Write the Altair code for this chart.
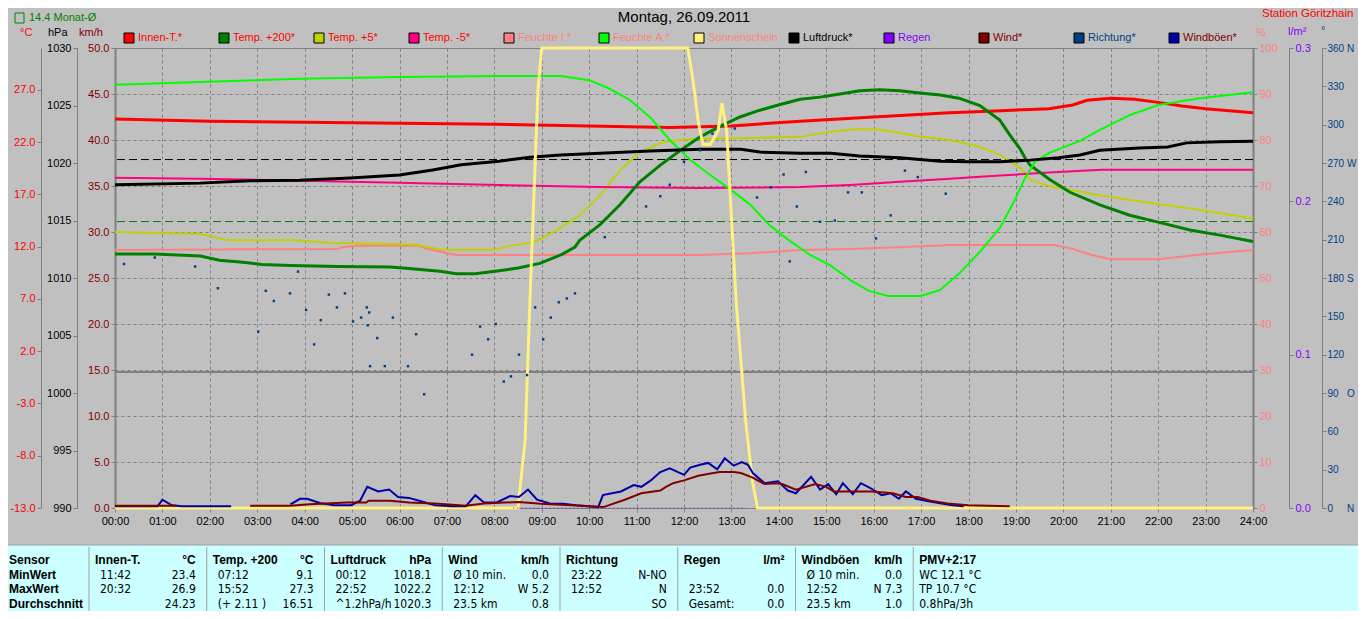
import altair as alt
import pandas as pd

FONT = "Liberation Sans"
NARROW = "Liberation Sans Narrow, DejaVu Sans Condensed, Liberation Sans"

# ---------------- data (hour of day, value) ----------------
INNEN = [(0, 24.2), (2, 24.0), (4, 23.9), (6, 23.8), (8, 23.7), (10, 23.55), (11.7, 23.4), (13, 23.55),
         (14.45, 24.0), (16, 24.4), (17.6, 24.8), (18.7, 25.0), (19.7, 25.2), (20.2, 25.55), (20.5, 26.0),
         (21, 26.2), (21.5, 26.1), (22, 25.8), (22.5, 25.45), (23, 25.2), (23.5, 25.0), (24, 24.8)]
T200 = [(0, 11.3), (0.84, 11.3), (1.8, 11.1), (2.2, 10.7), (2.7, 10.5), (3.1, 10.3), (3.7, 10.2), (4.7, 10.1),
        (5.8, 10.05), (6.2, 9.9), (6.85, 9.65), (7.2, 9.4), (7.6, 9.4), (8.1, 9.7), (8.5, 9.95), (8.96, 10.4),
        (9.4, 11.2), (9.7, 11.95), (9.8, 12.6), (10.23, 14.1), (10.65, 16.0), (11.07, 18.2), (11.5, 19.8),
        (11.92, 21.2), (12.34, 22.5), (12.76, 23.5), (13.18, 24.4), (13.6, 25.05), (14.03, 25.6), (14.45, 26.1),
        (14.87, 26.3), (15.29, 26.6), (15.71, 26.9), (16.13, 27.0), (16.55, 26.9), (16.97, 26.7), (17.4, 26.5),
        (17.8, 26.2), (18.24, 25.5), (18.66, 24.1), (18.87, 22.7), (19.08, 21.4), (19.19, 20.5), (19.3, 19.8),
        (19.72, 18.4), (20.14, 17.2), (20.77, 16.0), (21.4, 15.0), (22.04, 14.3), (22.67, 13.6), (23.3, 13.1),
        (24, 12.5)]
T5 = [(0, 13.4), (1.8, 13.2), (2.4, 12.6), (3.8, 12.6), (4.6, 12.35), (6.3, 12.2), (6.9, 11.7), (8.0, 11.7),
      (8.3, 12.05), (8.8, 12.4), (9.0, 12.8), (9.4, 13.8), (9.8, 15.0), (10.23, 16.9), (10.65, 19.3),
      (11.07, 21.05), (11.5, 21.9), (11.9, 22.2), (12.3, 22.3), (13.4, 22.4), (14.45, 22.5), (15.1, 23.0),
      (15.7, 23.25), (16.1, 23.2), (16.55, 22.9), (17.0, 22.5), (17.6, 22.2), (18.2, 21.6), (18.66, 20.8),
      (19.1, 19.5), (19.3, 18.4), (19.7, 17.8), (20.8, 16.9), (21.8, 16.2), (22.9, 15.5), (24, 14.7)]
TM5 = [(0, 18.6), (1.8, 18.5), (3.9, 18.3), (6, 18.1), (8.1, 17.9), (10.2, 17.7), (12.3, 17.6), (14.45, 17.7),
       (15.5, 17.9), (16.55, 18.2), (17.6, 18.5), (18.66, 18.8), (19.7, 19.1), (20.8, 19.35), (24, 19.35)]
FEUCHTE_I = [(0, 56.1), (4.7, 56.3), (4.8, 56.7), (5.1, 57.0), (6.4, 57.0), (6.6, 56.3), (7.0, 55.4), (7.2, 55.0),
             (12.34, 55.0), (13.4, 55.4), (14.45, 56.1), (15.5, 56.3), (16.55, 56.7), (17.6, 57.2), (19.8, 57.2),
             (20.2, 56.3), (20.6, 55.0), (21.0, 54.1), (22.0, 54.1), (23.0, 55.2), (24, 56.1)]
FEUCHTE_A = [(0, 92.0), (1.8, 92.6), (3.9, 93.3), (6.0, 93.7), (8.1, 93.9), (9.4, 93.9), (10.0, 93.0), (10.4, 91.3),
             (10.86, 88.7), (11.3, 84.8), (11.7, 80.0), (12.13, 75.7), (12.55, 72.4), (13.0, 69.1), (13.4, 65.9),
             (13.8, 61.5), (14.2, 58.3), (14.66, 55.0), (15.08, 52.8), (15.5, 49.6), (15.9, 47.2), (16.3, 46.1),
             (17.0, 46.1), (17.4, 47.4), (17.8, 50.9), (18.24, 55.7), (18.66, 60.9), (18.98, 67.0), (19.19, 71.7),
             (19.4, 75.2), (19.7, 77.2), (20.35, 79.8), (20.77, 82.2), (21.4, 85.4), (22.0, 87.6), (22.88, 89.1),
             (24, 90.4)]
SONNE = [(0, 0), (8.5, 0), (8.65, 14.8), (8.75, 45), (8.92, 90.9), (9.0, 100), (12.08, 100), (12.19, 93),
         (12.3, 84), (12.4, 79), (12.55, 79), (12.72, 82), (12.8, 88), (12.9, 82), (12.98, 67), (13.1, 45),
         (13.3, 19), (13.44, 6), (13.55, 0), (24, 0)]
LUFT = [(0, 1018.1), (1.8, 1018.25), (2.85, 1018.45), (3.9, 1018.5), (4.96, 1018.7), (6.0, 1018.95), (6.7, 1019.4),
        (7.3, 1019.85), (8.1, 1020.15), (8.75, 1020.5), (9.4, 1020.7), (10.23, 1020.85), (11.28, 1021.05),
        (12.34, 1021.2), (13.2, 1021.2), (13.6, 1020.95), (14.45, 1020.85), (15.1, 1020.85), (15.7, 1020.6),
        (16.55, 1020.45), (17.4, 1020.15), (18.0, 1020.1), (18.66, 1020.1), (19.3, 1020.25), (19.9, 1020.45),
        (20.35, 1020.7), (20.77, 1021.1), (21.6, 1021.3), (22.2, 1021.4), (22.6, 1021.75), (23.3, 1021.85),
        (24, 1021.9)]
REGEN = [(8.4, 0.0), (13.3, 0.0)]
WIND_A = [(0, 0.25), (1.3, 0.25)]
WIND_B = [(2.85, 0.25), (3.7, 0.25), (4.1, 0.4), (4.9, 0.6), (5.3, 0.6), (5.35, 0.8), (5.8, 0.8), (6.2, 0.6),
          (6.75, 0.5), (7.4, 0.25), (7.78, 0.5), (8.52, 0.65), (8.98, 0.45), (9.83, 0.25), (10.3, 0.1),
          (10.75, 0.9), (11.1, 1.6), (11.5, 1.9), (11.62, 2.3), (11.77, 2.7), (12.0, 3.0), (12.3, 3.5),
          (12.5, 3.7), (12.75, 3.9), (13.05, 3.9), (13.2, 3.8), (13.45, 3.3), (13.7, 2.6), (13.94, 2.7),
          (14.07, 2.6), (14.36, 2.0), (14.77, 2.6), (15.0, 2.3), (15.16, 1.8), (15.96, 1.8), (16.4, 1.6),
          (16.68, 1.2), (16.93, 1.2), (17.2, 0.8), (17.56, 0.5), (17.99, 0.3), (18.87, 0.2)]
GUST_A = [(0, 0.2), (0.9, 0.2), (1.0, 0.9), (1.2, 0.3), (1.4, 0.2), (2.45, 0.2)]
GUST_B = [(3.7, 0.4), (3.9, 1.0), (4.05, 1.0), (4.32, 0.55), (4.62, 0.3), (4.98, 0.3), (5.17, 0.8), (5.32, 2.3),
          (5.55, 1.8), (5.78, 2.0), (5.97, 1.2), (6.2, 1.1), (6.47, 0.7), (6.75, 0.3), (7.1, 0.2), (7.4, 0.2),
          (7.6, 1.4), (7.78, 0.6), (8.05, 0.6), (8.33, 1.3), (8.52, 1.2), (8.71, 2.0), (8.9, 0.9), (9.17, 0.5),
          (9.45, 0.45), (9.72, 0.3), (10.19, 0.1), (10.29, 1.4), (10.48, 1.6), (10.67, 1.8), (10.94, 2.5),
          (11.1, 2.3), (11.3, 3.0), (11.5, 3.9), (11.7, 4.3), (12.0, 3.6), (12.13, 4.4), (12.34, 4.7),
          (12.51, 4.9), (12.7, 4.2), (12.86, 5.4), (13.05, 4.6), (13.22, 5.0), (13.35, 4.7), (13.45, 3.8),
          (13.7, 2.7), (13.98, 2.9), (14.19, 1.9), (14.36, 1.6), (14.68, 3.4), (14.87, 2.0), (15.04, 2.6),
          (15.21, 1.5), (15.35, 2.7), (15.56, 1.5), (15.73, 2.7), (15.92, 2.2), (16.17, 1.4), (16.36, 1.6),
          (16.53, 1.0), (16.68, 1.8), (16.89, 1.0), (17.19, 0.7), (17.65, 0.3), (17.9, 0.2)]
RICHTUNG = [(0.19, 191), (0.84, 196), (1.69, 189), (2.17, 172), (3.02, 138), (3.18, 170), (3.35, 162), (3.69, 168),
            (3.86, 185), (4.03, 155), (4.2, 128), (4.34, 147), (4.51, 167), (4.68, 157), (4.85, 168), (5.02, 146),
            (5.19, 149), (5.31, 157), (5.36, 153), (5.33, 143), (5.38, 111), (5.53, 133), (5.69, 111), (5.86, 149),
            (6.18, 111), (6.35, 136), (6.52, 89), (7.53, 120), (7.7, 142), (7.87, 132), (8.03, 144), (8.2, 99),
            (8.35, 103), (8.52, 120), (8.69, 104), (8.86, 157), (9.03, 132), (9.19, 149), (9.36, 161), (9.53, 164),
            (9.7, 168), (10.33, 212), (11.2, 236), (11.5, 244), (11.7, 253), (12.0, 271), (12.34, 280),
            (12.6, 293), (13.07, 297), (13.54, 243), (13.83, 251), (14.1, 261), (14.23, 193), (14.38, 236),
            (14.57, 263), (14.87, 224), (15.18, 225), (15.46, 247), (15.75, 247), (16.05, 211), (16.36, 229),
            (16.66, 264), (16.93, 259), (17.52, 246)]
MONTH_AVG = [14.4]
PRESS_AVG = [1020.3]
ZERO_C = [0.0]

TITLE = "Montag, 26.09.2011"
STATION = "Station Göritzhain"
MONTH_TXT = "14.4 Monat-Ø"
LEG_NAMES = ["Innen-T.*", "Temp. +200*", "Temp. +5*", "Temp. -5*", "Feuchte I.*", "Feuchte A.*",
             "Sonnenschein", "Luftdruck*", "Regen", "Wind*", "Richtung*", "Windböen*"]
LEG_FILL = ["#ff0000", "#008000", "#c0d000", "#ff0080", "#ff8080", "#00ff00", "#fff080", "#000000",
            "#8000ff", "#800000", "#004080", "#0000a8"]
LEG_TEXT = ["#ff0000"] * 4 + ["#ff8080"] * 3 + ["#000000", "#8000ff", "#800000", "#004080", "#800000"]

TAB_HEAD = ["Innen-T.", "Temp. +200", "Luftdruck", "Wind", "Richtung", "Regen", "Windböen", "PMV+2:17"]
TAB_UNIT = ["°C", "°C", "hPa", "km/h", "", "l/m²", "km/h", ""]
ROW_NAMES = ["Sensor", "MinWert", "MaxWert", "Durchschnitt"]
TAB_LEFT = [["11:42", "20:32", ""], ["07:12", "15:52", "(+ 2.11 )"], ["00:12", "22:52", "^1.2hPa/h"],
            ["Ø 10 min.", "12:12", "23.5 km"], ["23:22", "12:52", ""], ["", "23:52", "Gesamt:"],
            ["Ø 10 min.", "12:52", "23.5 km"], ["WC 12.1 °C", "TP 10.7 °C", "0.8hPa/3h"]]
TAB_RIGHT = [["23.4", "26.9", "24.23"], ["9.1", "27.3", "16.51"], ["1018.1", "1022.2", "1020.3"],
             ["0.0", "W 5.2", "0.8"], ["N-NO", "N", "SO"], ["", "0.0", "0.0"], ["0.0", "N 7.3", "1.0"],
             ["", "", ""]]

# ---------------- layout ----------------
PX0, PY0 = 115, 48
W, H = 1138, 460
GRID = "#808080"
one = pd.DataFrame({"k": [0]})

X = alt.X("h:Q", scale=alt.Scale(domain=[0, 24], nice=False, zero=False),
          axis=alt.Axis(values=list(range(25)),
                        labelExpr="(datum.value < 10 ? '0' : '') + datum.value + ':00'",
                        grid=True, gridColor=GRID, gridDash=[3, 3], gridWidth=1,
                        domainColor=GRID, tickColor=GRID, tickSize=4, labelFont=FONT, labelFontSize=11,
                        labelColor="black", labelPadding=3, labelFlush=False, labelOverlap=False, title=None))

sc_temp = alt.Scale(domain=[-13, 31], nice=False, zero=False)
sc_hpa = alt.Scale(domain=[990, 1030], nice=False, zero=False)
sc_kmh = alt.Scale(domain=[0, 50], nice=False, zero=False)
sc_pct = alt.Scale(domain=[0, 100], nice=False, zero=False)
sc_rain = alt.Scale(domain=[0, 0.3], nice=False, zero=False)
sc_deg = alt.Scale(domain=[0, 360], nice=False, zero=False)


def yaxis(orient, offset, values, color, expr, grid=False, dw=1, size=11, tick=4, pad=2):
    kw = dict(orient=orient, offset=offset, values=values, labelColor=color, labelFont=FONT,
              labelFontSize=size, tickColor=GRID, domainColor=GRID, domainWidth=dw, tickSize=tick,
              labelPadding=pad, title=None, grid=grid, labelOverlap=False, labelExpr=expr)
    if grid:
        kw.update(gridColor=GRID, gridDash=[3, 3], gridWidth=1)
    return alt.Axis(**kw)


ax_temp = yaxis("left", 74, list(range(-13, 28, 5)), "#ff0000",
                "(datum.value < 0 ? '-' : '') + format(abs(datum.value), '.1f')")
ax_hpa = yaxis("left", 38, list(range(990, 1031, 5)), "#000000", "format(datum.value, 'd')")
ax_kmh = yaxis("left", 0, list(range(0, 51, 5)), "#800000", "format(datum.value, '.1f')", grid=True, dw=2)
ax_pct = yaxis("right", 0, list(range(0, 101, 10)), "#ff8080", "format(datum.value, 'd')", dw=2)
ax_rain = yaxis("right", 36, [0, 0.1, 0.2, 0.3], "#8000ff", "format(datum.value, '.1f')")
NB = "\u00a0"
ax_deg = yaxis("right", 69, list(range(0, 361, 30)), "#004080",
               f"datum.value == 360 ? '360{NB}N' : datum.value == 270 ? '270{NB}W' : "
               f"datum.value == 180 ? '180{NB}S' : datum.value == 90 ? '90{NB}{NB}{NB}O' : "
               f"datum.value == 0 ? '0{NB}{NB}{NB}{NB}{NB}N' : '' + datum.value",
               size=10, tick=4, pad=1)


def frame(pairs, seg=0):
    df = pd.DataFrame(pairs, columns=["h", "v"])
    df["seg"] = seg
    return df


def line(df, scale, color, width, axis=None, dash=None):
    mk = dict(color=color, strokeWidth=width, interpolate="linear")
    if dash:
        mk["strokeDash"] = dash
    return alt.Chart(df).mark_line(**mk).encode(
        x=X, y=alt.Y("v:Q", scale=scale, axis=axis), detail="seg:N")


def hrule(vals, scale, color, width, dash=None):
    mk = dict(color=color, strokeWidth=width)
    if dash:
        mk["strokeDash"] = dash
    return alt.Chart(pd.DataFrame({"v": vals})).mark_rule(**mk).encode(
        y=alt.Y("v:Q", scale=scale, axis=None))


def txt(s, x, y, color="black", size=11, align="left", weight="normal", font=FONT):
    return alt.Chart(one).mark_text(text=s, color=color, fontSize=size, align=align, fontWeight=weight,
                                    font=font, baseline="middle").encode(
        x=alt.value(x - PX0), y=alt.value(y - PY0))


def box(x1, y1, x2, y2, fill, stroke, sw=1, fo=1.0):
    return alt.Chart(one).mark_rect(fill=fill, fillOpacity=fo, stroke=stroke, strokeWidth=sw).encode(
        x=alt.value(x1 - PX0), x2=alt.value(x2 - PX0), y=alt.value(y1 - PY0), y2=alt.value(y2 - PY0))


def vline(x, y1, y2, color):
    return alt.Chart(one).mark_rule(color=color, strokeWidth=1).encode(
        x=alt.value(x - PX0), y=alt.value(y1 - PY0), y2=alt.value(y2 - PY0))


layers = []
# bottom table background
layers.append(box(0, 545, 1366, 625, "#ccffff", "#a0a0a0"))

# reference rules
layers.append(hrule(ZERO_C, sc_temp, GRID, 2))
layers.append(hrule(PRESS_AVG, sc_hpa, "#000000", 1, [8, 4]))
layers.append(hrule(MONTH_AVG, sc_temp, "#008000", 1, [8, 4]))

# data series
layers.append(line(frame(FEUCHTE_I), sc_pct, "#ff8080", 2, ax_pct))
layers.append(line(frame(INNEN), sc_temp, "#ff0000", 3, ax_temp))
layers.append(line(frame(T5), sc_temp, "#c0d000", 2))
layers.append(line(frame(TM5), sc_temp, "#ff0080", 2))
layers.append(line(frame(T200), sc_temp, "#008000", 3))
layers.append(line(frame(FEUCHTE_A), sc_pct, "#00ff00", 2))
layers.append(line(frame(LUFT), sc_hpa, "#000000", 3, ax_hpa))
layers.append(line(frame(SONNE), sc_pct, "#fff080", 3))
layers.append(line(frame(REGEN), sc_rain, "#8000ff", 1, ax_rain, [1, 3]))
layers.append(line(pd.concat([frame(GUST_A, 0), frame(GUST_B, 1)]), sc_kmh, "#0000a8", 2, ax_kmh))
layers.append(line(pd.concat([frame(WIND_A, 0), frame(WIND_B, 1)]), sc_kmh, "#800000", 2))
layers.append(alt.Chart(frame(RICHTUNG)).mark_square(size=6, color="#004080", opacity=1).encode(
    x=X, y=alt.Y("v:Q", scale=sc_deg, axis=ax_deg)))

# header texts
layers.append(txt(TITLE, 684, 17, "black", 15, "center"))
layers.append(txt(STATION, 1262, 14, "#ff0000", 11.5, "left"))
layers.append(box(15, 13, 24, 23, "#c0c0c0", "#008000", 1, 0))
layers.append(txt(MONTH_TXT, 29, 18, "#008000", 11))
layers.append(txt("°C", 20, 33, "#ff0000", 11))
layers.append(txt("hPa", 48, 33, "#000000", 11))
layers.append(txt("km/h", 79, 33, "#800000", 11))
layers.append(txt("%", 1256, 33, "#ff8080", 11))
layers.append(txt("l/m²", 1288, 32, "#8000ff", 11))
layers.append(txt("°", 1321, 31, "#004080", 11))

# legend
for i, (name, fill, tcol) in enumerate(zip(LEG_NAMES, LEG_FILL, LEG_TEXT)):
    sx = 124 + 95 * i
    layers.append(box(sx, 33, sx + 10, 43, fill, "#000000", 1))
    layers.append(txt(name, sx + 14, 38, tcol, 11))

# table
ROW_Y = [560, 574.5, 589, 603.5]
SEPS = [89 + 117.75 * i for i in range(8)]
for r, name in enumerate(ROW_NAMES):
    layers.append(txt(name, 9, ROW_Y[r], "black", 12, "left", "bold"))
for c in range(8):
    s = SEPS[c]
    right = (SEPS[c + 1] if c + 1 < 8 else s + 117.75) - 11
    layers.append(vline(s, 547, 625, "#a0a0a0"))
    layers.append(txt(TAB_HEAD[c], s + 6, ROW_Y[0], "black", 12, "left", "bold"))
    if TAB_UNIT[c]:
        layers.append(txt(TAB_UNIT[c], right, ROW_Y[0], "black", 12, "right", "bold"))
    for r in range(3):
        if TAB_LEFT[c][r]:
            lx = s + 6 if c == 7 else s + 11
            layers.append(txt(TAB_LEFT[c][r], lx, ROW_Y[r + 1], "black", 12, "left", "normal", NARROW))
        if TAB_RIGHT[c][r]:
            layers.append(txt(TAB_RIGHT[c][r], right, ROW_Y[r + 1], "black", 12, "right", "normal", NARROW))

chart = alt.layer(*layers).properties(
    width=W, height=H, background="#c0c0c0",
    padding={"left": 107, "top": 40, "right": 105, "bottom": 103},
    autosize=alt.AutoSizeParams(type="none"),
).resolve_scale(y="independent").configure_view(stroke=GRID, strokeWidth=1)

chart.save("out.html", embed_options={"renderer": "svg", "actions": False})
